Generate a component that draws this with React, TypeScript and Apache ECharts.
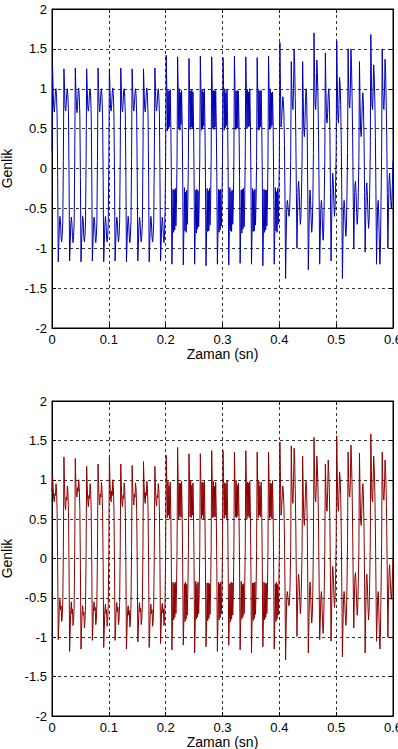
import { useEffect, useRef } from "react";
import * as echarts from "echarts";

// Sampling step of the recorded signals (seconds)
const T_STEP = 0.001;
const X_MIN = 0;
const X_MAX = 0.6;
const Y_MIN = -2;
const Y_MAX = 2;
const X_NAME = "Zaman (sn)";
const Y_NAME = "Genlik";

// ---- Upper signal (blue), 0 – 0.2 s
const topA = [
  0.22, 1.26, 1.0, 0.78, 0.71, 0.8, 0.96, 1.0, 0.9, 0.66, -0.1, -1.17, -0.94, -0.72, -0.6, -0.67, -0.86, -0.92, -0.84, -0.66,
  0.1, 1.25, 1.01, 0.77, 0.72, 0.81, 0.95, 1.0, 0.91, 0.68, -0.12, -1.16, -0.95, -0.71, -0.61, -0.68, -0.85, -0.93, -0.85, -0.68,
  0.1, 1.26, 1.0, 0.78, 0.7, 0.79, 0.96, 1.01, 0.9, 0.67, -0.1, -1.17, -0.94, -0.73, -0.6, -0.66, -0.86, -0.92, -0.84, -0.67,
  0.11, 1.25, 0.99, 0.76, 0.72, 0.8, 0.95, 1.0, 0.91, 0.68, -0.11, -1.16, -0.95, -0.72, -0.61, -0.67, -0.85, -0.93, -0.85, -0.66,
  0.1, 1.26, 1.0, 0.78, 0.71, 0.81, 0.96, 1.0, 0.9, 0.66, -0.1, -1.17, -0.94, -0.71, -0.6, -0.68, -0.86, -0.92, -0.84, -0.68,
  0.1, 1.25, 1.0, 0.77, 0.72, 0.8, 0.95, 1.01, 0.91, 0.67, -0.11, -1.16, -0.95, -0.72, -0.61, -0.67, -0.85, -0.92, -0.85, -0.67,
  0.1, 1.26, 1.01, 0.78, 0.71, 0.8, 0.96, 1.0, 0.9, 0.68, -0.1, -1.17, -0.94, -0.72, -0.6, -0.68, -0.86, -0.93, -0.84, -0.66,
  0.11, 1.25, 1.0, 0.77, 0.72, 0.81, 0.95, 1.0, 0.91, 0.67, -0.11, -1.16, -0.95, -0.71, -0.61, -0.67, -0.85, -0.92, -0.85, -0.68,
  0.1, 1.25, 0.99, 0.78, 0.71, 0.8, 0.96, 1.01, 0.9, 0.66, -0.1, -1.17, -0.94, -0.72, -0.6, -0.68, -0.86, -0.92, -0.84, -0.67,
  0.1, 1.26, 1.0, 0.77, 0.72, 0.8, 0.95, 1.0, 0.91, 0.68, -0.11, -1.16, -0.95, -0.72, -0.61, -0.67, -0.85, -0.93, -0.85, -0.5,
];

// ---- Upper signal, 0.2 – 0.4 s
const topB = [
  0.12, 1.42, 1.0, 0.47, 0.98, 0.5, 0.97, 0.52, 0.99, 0.6, -0.1, -1.2, -0.78, -0.26, -0.8, -0.27, -0.77, -0.25, -0.72, -0.45,
  0.1, 1.4, 0.98, 0.5, 1.0, 0.48, 0.95, 0.55, 0.98, 0.62, -0.12, -1.21, -0.8, -0.24, -0.78, -0.3, -0.8, -0.27, -0.7, -0.44,
  0.1, 1.38, 1.0, 0.49, 0.97, 0.52, 0.99, 0.5, 0.96, 0.6, -0.1, -1.2, -0.77, -0.27, -0.81, -0.26, -0.76, -0.28, -0.73, -0.45,
  0.11, 1.41, 0.99, 0.48, 0.99, 0.5, 0.96, 0.53, 1.0, 0.61, -0.11, -1.22, -0.79, -0.25, -0.79, -0.28, -0.78, -0.25, -0.71, -0.46,
  0.1, 1.4, 1.0, 0.5, 0.98, 0.49, 0.97, 0.52, 0.98, 0.6, -0.1, -1.2, -0.8, -0.26, -0.8, -0.27, -0.77, -0.26, -0.72, -0.44,
  0.1, 1.39, 0.98, 0.48, 1.0, 0.51, 0.95, 0.54, 0.99, 0.62, -0.12, -1.21, -0.78, -0.24, -0.78, -0.29, -0.79, -0.27, -0.7, -0.45,
  0.1, 1.41, 1.0, 0.49, 0.97, 0.5, 0.98, 0.51, 0.97, 0.6, -0.1, -1.19, -0.79, -0.27, -0.81, -0.26, -0.76, -0.25, -0.73, -0.46,
  0.11, 1.4, 0.99, 0.5, 0.99, 0.52, 0.96, 0.53, 1.0, 0.61, -0.11, -1.2, -0.8, -0.25, -0.79, -0.28, -0.78, -0.26, -0.71, -0.44,
  0.1, 1.39, 1.0, 0.48, 0.98, 0.49, 0.97, 0.52, 0.98, 0.6, -0.1, -1.22, -0.78, -0.26, -0.8, -0.27, -0.77, -0.27, -0.72, -0.45,
  0.1, 1.41, 0.98, 0.49, 1.0, 0.51, 0.95, 0.54, 0.96, 0.62, -0.12, -1.2, -0.79, -0.24, -0.78, -0.29, -0.8, -0.25, -0.7, -0.42,
];

// ---- Upper signal, 0.4 – 0.6 s (plus the end sample)
const topC = [
  0.1, 1.58, 1.0, 0.52, 0.6, 0.75, 0.9, 0.85, 0.7, 0.3, -0.4, -1.38, -0.9, -0.5, -0.4, -0.45, -0.55, -0.6, -0.55, -0.3,
  0.1, 1.34, 1.0, 0.78, 0.74, 1.0, 1.5, 1.3, 0.9, 0.4, -0.3, -1.0, -0.6, -0.25, -0.16, -0.3, -0.55, -0.7, -0.6, -0.3,
  0.1, 1.34, 0.9, 0.5, 0.4, 0.55, 0.85, 1.0, 0.9, 0.5, -0.3, -1.27, -0.9, -0.45, -0.27, -0.4, -0.65, -0.8, -0.7, -0.4,
  0.2, 1.7, 1.2, 0.8, 0.74, 0.95, 1.36, 1.2, 0.9, 0.4, -0.3, -1.2, -0.85, -0.5, -0.4, -0.5, -0.75, -0.9, -0.8, -0.4,
  0.1, 1.45, 1.0, 0.62, 0.57, 0.7, 0.92, 1.0, 0.85, 0.45, -0.3, -1.16, -0.7, -0.25, -0.06, -0.2, -0.45, -0.6, -0.5, -0.2,
  0.2, 1.6, 1.1, 0.65, 0.57, 0.8, 1.14, 1.05, 0.8, 0.3, -0.4, -1.38, -0.9, -0.5, -0.4, -0.5, -0.72, -0.85, -0.75, -0.35,
  0.2, 1.5, 1.05, 0.8, 0.76, 1.0, 1.5, 1.3, 0.9, 0.4, -0.3, -1.0, -0.55, -0.22, -0.16, -0.3, -0.55, -0.7, -0.6, -0.3,
  0.1, 1.34, 0.85, 0.48, 0.4, 0.55, 0.85, 0.95, 0.8, 0.4, -0.3, -1.05, -0.6, -0.25, -0.18, -0.35, -0.6, -0.75, -0.65, -0.3,
  0.2, 1.68, 1.15, 0.8, 0.74, 0.95, 1.3, 1.15, 0.85, 0.4, -0.3, -1.2, -0.8, -0.48, -0.4, -0.6, -0.95, -1.2, -0.95, -0.4,
  0.2, 1.5, 1.05, 0.78, 0.74, 0.95, 1.37, 1.2, 0.85, 0.4, -0.3, -1.0, -0.55, -0.15, -0.06, -0.2, -0.4, -0.5, -0.4, -0.2,
  0.1,
];

// ---- Lower signal (dark red), 0 – 0.2 s
const botA = [
  0.85, 1.05, 0.9, 0.76, 0.72, 0.82, 0.8, 0.95, 0.88, 0.6, -0.1, -1.03, -0.85, -0.6, -0.52, -0.65, -0.6, -0.8, -0.75, -0.55,
  0.1, 1.29, 0.95, 0.68, 0.62, 0.78, 0.74, 0.92, 0.86, 0.6, -0.12, -1.18, -0.92, -0.66, -0.55, -0.7, -0.64, -0.85, -0.8, -0.58,
  0.1, 1.27, 0.96, 0.8, 0.78, 0.9, 0.85, 1.0, 0.9, 0.62, -0.1, -1.15, -0.9, -0.68, -0.6, -0.72, -0.68, -0.88, -0.8, -0.6,
  0.1, 1.17, 0.92, 0.72, 0.66, 0.8, 0.76, 0.95, 0.86, 0.6, -0.1, -1.04, -0.86, -0.62, -0.55, -0.66, -0.62, -0.84, -0.78, -0.56,
  0.1, 1.2, 0.94, 0.74, 0.68, 0.82, 0.78, 0.97, 0.88, 0.6, -0.1, -1.13, -0.9, -0.66, -0.58, -0.7, -0.65, -0.86, -0.8, -0.58,
  0.1, 1.29, 0.98, 0.78, 0.72, 0.86, 0.8, 1.0, 0.9, 0.62, -0.1, -1.04, -0.86, -0.63, -0.56, -0.68, -0.62, -0.84, -0.78, -0.56,
  0.1, 1.2, 0.93, 0.72, 0.66, 0.8, 0.76, 0.96, 0.87, 0.6, -0.1, -1.15, -0.9, -0.67, -0.6, -0.72, -0.66, -0.87, -0.8, -0.58,
  0.1, 1.18, 0.92, 0.74, 0.68, 0.82, 0.78, 0.96, 0.88, 0.6, -0.1, -1.06, -0.87, -0.64, -0.56, -0.68, -0.63, -0.84, -0.78, -0.56,
  0.1, 1.23, 0.95, 0.75, 0.7, 0.84, 0.8, 0.98, 0.89, 0.62, -0.1, -1.13, -0.9, -0.66, -0.58, -0.7, -0.65, -0.86, -0.8, -0.58,
  0.1, 1.17, 0.92, 0.72, 0.67, 0.8, 0.77, 0.95, 0.87, 0.6, -0.1, -1.08, -0.88, -0.64, -0.57, -0.69, -0.64, -0.85, -0.78, -0.5,
];

// ---- Lower signal, 0.2 – 0.4 s
const botB = [
  0.1, 1.31, 0.95, 0.52, 0.98, 0.55, 0.92, 0.5, 0.97, 0.6, -0.1, -1.16, -0.8, -0.3, -0.78, -0.32, -0.75, -0.3, -0.7, -0.45,
  0.1, 1.41, 0.97, 0.5, 0.96, 0.54, 0.95, 0.52, 0.98, 0.62, -0.12, -1.1, -0.78, -0.32, -0.8, -0.3, -0.77, -0.33, -0.72, -0.44,
  0.1, 1.33, 0.95, 0.53, 0.99, 0.52, 0.93, 0.55, 0.96, 0.6, -0.1, -1.2, -0.81, -0.29, -0.77, -0.33, -0.74, -0.3, -0.7, -0.46,
  0.1, 1.33, 0.96, 0.5, 0.97, 0.55, 0.96, 0.5, 0.98, 0.61, -0.11, -1.12, -0.79, -0.31, -0.79, -0.31, -0.76, -0.32, -0.71, -0.45,
  0.1, 1.37, 0.94, 0.52, 0.98, 0.53, 0.92, 0.53, 0.97, 0.6, -0.1, -1.18, -0.8, -0.3, -0.78, -0.32, -0.75, -0.3, -0.7, -0.44,
  0.1, 1.37, 0.97, 0.51, 0.96, 0.55, 0.95, 0.51, 0.99, 0.62, -0.12, -1.1, -0.78, -0.32, -0.8, -0.3, -0.77, -0.31, -0.72, -0.46,
  0.1, 1.35, 0.95, 0.53, 0.99, 0.52, 0.93, 0.54, 0.96, 0.6, -0.1, -1.16, -0.81, -0.29, -0.77, -0.33, -0.74, -0.32, -0.7, -0.45,
  0.1, 1.37, 0.96, 0.5, 0.97, 0.54, 0.96, 0.52, 0.98, 0.61, -0.11, -1.2, -0.79, -0.31, -0.79, -0.31, -0.76, -0.3, -0.71, -0.44,
  0.1, 1.35, 0.94, 0.52, 0.98, 0.55, 0.92, 0.53, 0.97, 0.6, -0.1, -1.12, -0.8, -0.3, -0.78, -0.32, -0.75, -0.31, -0.7, -0.45,
  0.1, 1.35, 0.97, 0.51, 0.96, 0.53, 0.95, 0.5, 0.99, 0.62, -0.12, -1.15, -0.78, -0.32, -0.8, -0.3, -0.77, -0.33, -0.72, -0.42,
];

// ---- Lower signal, 0.4 – 0.6 s (plus the end sample)
const botC = [
  0.1, 1.48, 1.0, 0.55, 0.62, 0.78, 0.92, 0.85, 0.68, 0.3, -0.4, -1.29, -0.88, -0.5, -0.42, -0.48, -0.56, -0.6, -0.55, -0.3,
  0.1, 1.43, 1.0, 0.75, 0.7, 0.98, 1.4, 1.25, 0.88, 0.4, -0.3, -0.99, -0.6, -0.28, -0.2, -0.32, -0.55, -0.7, -0.6, -0.3,
  0.1, 1.3, 0.88, 0.5, 0.42, 0.58, 0.85, 0.98, 0.88, 0.5, -0.3, -1.2, -0.86, -0.45, -0.3, -0.42, -0.66, -0.82, -0.72, -0.4,
  0.2, 1.54, 1.1, 0.78, 0.72, 0.92, 1.3, 1.15, 0.88, 0.4, -0.3, -1.03, -0.8, -0.5, -0.42, -0.55, -0.8, -0.95, -0.82, -0.4,
  0.1, 1.2, 0.9, 0.64, 0.6, 0.85, 1.25, 1.1, 0.85, 0.45, -0.3, -1.05, -0.65, -0.25, -0.1, -0.22, -0.48, -0.62, -0.52, -0.22,
  0.2, 1.56, 1.08, 0.66, 0.6, 0.82, 1.1, 1.02, 0.8, 0.3, -0.4, -1.25, -0.85, -0.5, -0.42, -0.52, -0.72, -0.85, -0.75, -0.35,
  0.2, 1.35, 1.0, 0.8, 0.78, 1.0, 1.44, 1.25, 0.9, 0.4, -0.3, -0.88, -0.52, -0.24, -0.18, -0.32, -0.56, -0.72, -0.6, -0.3,
  0.1, 1.34, 0.86, 0.5, 0.42, 0.56, 0.85, 0.95, 0.8, 0.4, -0.3, -1.2, -0.7, -0.28, -0.2, -0.36, -0.62, -0.78, -0.66, -0.3,
  0.2, 1.58, 1.1, 0.78, 0.72, 0.94, 1.3, 1.15, 0.85, 0.4, -0.3, -1.05, -0.78, -0.5, -0.42, -0.62, -0.95, -1.15, -0.92, -0.4,
  0.2, 1.35, 1.0, 0.78, 0.74, 0.92, 1.25, 1.12, 0.85, 0.4, -0.3, -1.0, -0.55, -0.18, -0.08, -0.22, -0.42, -0.52, -0.42, -0.25,
  0.0,
];

const TOP_COLOR = "#0000b4";
const BOT_COLOR = "#8c0000";
const FONT = "'Liberation Sans', Arial, Helvetica, sans-serif";

function toPairs(values: number[]): number[][] {
  return values.map((v, i) => [Number((i * T_STEP).toFixed(4)), v]);
}

export default function App() {
  const ref = useRef<HTMLDivElement | null>(null);

  useEffect(() => {
    if (!ref.current) return;
    const chart = echarts.init(ref.current, undefined, { renderer: "svg" });

    const topSignal = toPairs([...topA, ...topB, ...topC]);
    const botSignal = toPairs([...botA, ...botB, ...botC]);

    const grids = [
      { left: 52, right: 5, top: 9, height: 319, show: true, borderColor: "#000", borderWidth: 1, backgroundColor: "#fff", containLabel: false, outerBoundsMode: "none" },
      { left: 52, right: 5, top: 401, height: 315, show: true, borderColor: "#000", borderWidth: 1, backgroundColor: "#fff", containLabel: false, outerBoundsMode: "none" },
    ];

    const grid = { color: "#000", type: [3, 3] as number[], width: 0.8 };

    const mainX = (gi: number) => ({
      type: "value",
      gridIndex: gi,
      min: X_MIN,
      max: X_MAX,
      interval: 0.1,
      position: "bottom",
      name: X_NAME,
      nameLocation: "middle",
      nameGap: 18,
      nameTextStyle: { color: "#000", fontSize: 14, fontFamily: FONT },
      axisLine: { show: true, onZero: false, lineStyle: { color: "#000", width: 1 } },
      axisTick: { show: true, inside: true, length: 4, lineStyle: { color: "#000" } },
      axisLabel: { show: true, color: "#000", fontSize: 13, fontFamily: FONT, margin: 5 },
      splitLine: { show: true, lineStyle: grid },
    });
    const boxX = (gi: number) => ({
      type: "value",
      gridIndex: gi,
      min: X_MIN,
      max: X_MAX,
      interval: 0.1,
      position: "top",
      axisLine: { show: true, onZero: false, lineStyle: { color: "#000", width: 1 } },
      axisTick: { show: true, inside: true, length: 4, lineStyle: { color: "#000" } },
      axisLabel: { show: false },
      splitLine: { show: false },
    });
    const mainY = (gi: number) => ({
      type: "value",
      gridIndex: gi,
      min: Y_MIN,
      max: Y_MAX,
      interval: 0.5,
      position: "left",
      name: Y_NAME,
      nameLocation: "middle",
      nameGap: 34,
      nameTextStyle: { color: "#000", fontSize: 14, fontFamily: FONT },
      axisLine: { show: true, onZero: false, lineStyle: { color: "#000", width: 1 } },
      axisTick: { show: true, inside: true, length: 4, lineStyle: { color: "#000" } },
      axisLabel: { show: true, color: "#000", fontSize: 13, fontFamily: FONT, margin: 5 },
      splitLine: { show: true, lineStyle: grid },
    });
    const boxY = (gi: number) => ({
      type: "value",
      gridIndex: gi,
      min: Y_MIN,
      max: Y_MAX,
      interval: 0.5,
      position: "right",
      axisLine: { show: true, onZero: false, lineStyle: { color: "#000", width: 1 } },
      axisTick: { show: true, inside: true, length: 4, lineStyle: { color: "#000" } },
      axisLabel: { show: false },
      splitLine: { show: false },
    });

    chart.setOption({
      animation: false,
      backgroundColor: "#fff",
      grid: grids,
      xAxis: [mainX(0), mainX(1), boxX(0), boxX(1)],
      yAxis: [mainY(0), mainY(1), boxY(0), boxY(1)],
      series: [
        {
          type: "line",
          xAxisIndex: 0,
          yAxisIndex: 0,
          data: topSignal,
          showSymbol: false,
          symbol: "none",
          lineStyle: { color: TOP_COLOR, width: 1 },
          itemStyle: { color: TOP_COLOR },
          silent: true,
        },
        {
          type: "line",
          xAxisIndex: 1,
          yAxisIndex: 1,
          data: botSignal,
          showSymbol: false,
          symbol: "none",
          lineStyle: { color: BOT_COLOR, width: 1 },
          itemStyle: { color: BOT_COLOR },
          silent: true,
        },
      ],
    });

    return () => chart.dispose();
  }, []);

  return (
    <div
      ref={ref}
      style={{ position: "absolute", left: 0, top: 0, width: 398, height: 749, background: "#fff" }}
    />
  );
}
